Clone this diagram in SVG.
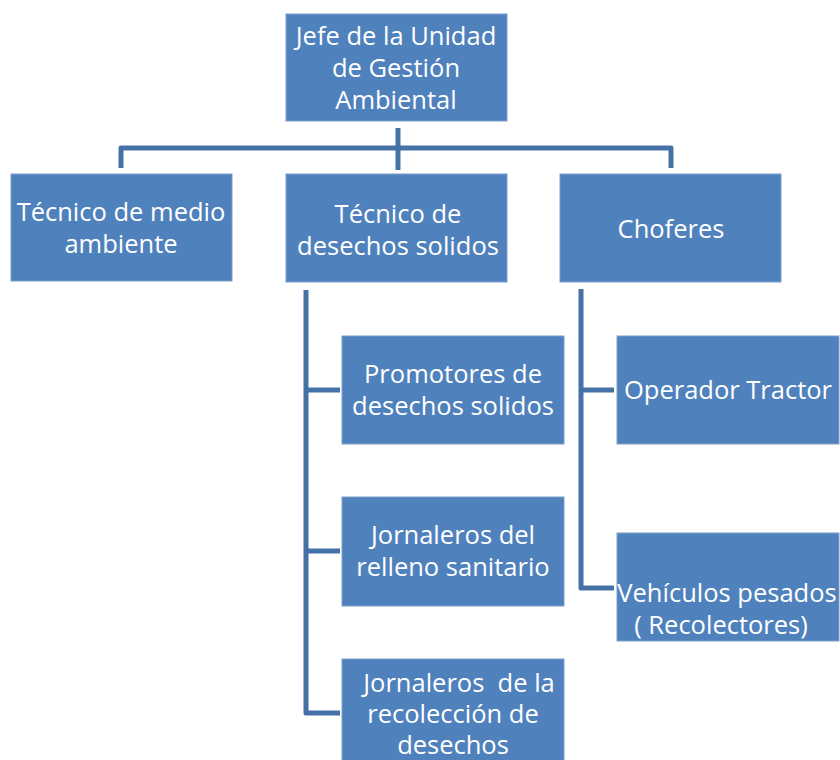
<svg xmlns="http://www.w3.org/2000/svg" width="840" height="760" viewBox="0 0 840 760">
<style>
.box{fill:#4f81bd;stroke:#7e9fcb;stroke-width:1}
.t{font-family:"Open Sans","Noto Sans","Liberation Sans",sans-serif;font-size:25.5px;fill:#ffffff;text-anchor:middle}
.c{fill:none;stroke:#4471a6;stroke-width:5;stroke-linejoin:round;stroke-linecap:butt}
</style>
<rect width="840" height="760" fill="#ffffff"/>
<g id="connectors">
<path class="c" d="M398,128 V170"/>
<path class="c" d="M121,168 V148 H671 V168"/>
<path class="c" d="M306,290 V713 H340"/>
<path class="c" d="M306,390 H340"/>
<path class="c" d="M306,551 H340"/>
<path class="c" d="M581,289 V588 H614"/>
<path class="c" d="M581,390 H614"/>
</g>
<g id="jefe">
<rect class="box" x="286" y="14" width="221" height="107"/>
<text class="t" x="396" y="45">Jefe de la Unidad</text>
<text class="t" x="396" y="77">de Gestión</text>
<text class="t" x="396" y="109">Ambiental</text>
</g>
<g id="tecnico-medio">
<rect class="box" x="11" y="174" width="221" height="107"/>
<text class="t" x="121" y="221">Técnico de medio</text>
<text class="t" x="121" y="253">ambiente</text>
</g>
<g id="tecnico-desechos">
<rect class="box" x="286" y="174" width="221" height="108"/>
<text class="t" x="398" y="223">Técnico de</text>
<text class="t" x="398" y="255">desechos solidos</text>
</g>
<g id="choferes">
<rect class="box" x="560" y="174" width="221" height="108"/>
<text class="t" x="671" y="238">Choferes</text>
</g>
<g id="promotores">
<rect class="box" x="342" y="336" width="222" height="108"/>
<text class="t" x="453" y="383">Promotores de</text>
<text class="t" x="453" y="415">desechos solidos</text>
</g>
<g id="jornaleros-relleno">
<rect class="box" x="342" y="497" width="222" height="109"/>
<text class="t" x="453" y="544">Jornaleros del</text>
<text class="t" x="453" y="576">relleno sanitario</text>
</g>
<g id="jornaleros-recoleccion">
<rect class="box" x="342" y="659" width="222" height="110"/>
<text class="t" x="459" y="692" xml:space="preserve">Jornaleros  de la</text>
<text class="t" x="453" y="723">recolección de</text>
<text class="t" x="453" y="754">desechos</text>
</g>
<g id="operador">
<rect class="box" x="617" y="336" width="222" height="108"/>
<text class="t" x="728" y="399">Operador Tractor</text>
</g>
<g id="vehiculos">
<rect class="box" x="617" y="533" width="222" height="108"/>
<text class="t" x="727" y="602">Vehículos pesados</text>
<text class="t" x="721" y="634">( Recolectores)</text>
</g>
</svg>
